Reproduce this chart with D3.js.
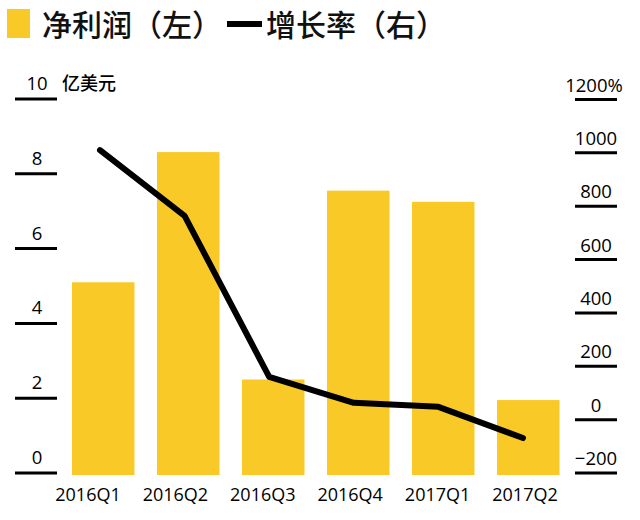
<!DOCTYPE html>
<html>
<head>
<meta charset="utf-8">
<script src="https://cdn.jsdelivr.net/npm/d3@7"></script>
<style>
html,body{margin:0;padding:0;background:#fff;}
svg{display:block;}
</style>
</head>
<body>
<svg id="chart" width="640" height="520"></svg>
<script>
const categories = ["2016Q1","2016Q2","2016Q3","2016Q4","2017Q1","2017Q2"];
const netProfit = [5.1, 8.58, 2.5, 7.55, 7.25, 1.95];
const growthRate = [1010, 764, 160, 63, 48, -69];
const leftTicks = [0, 2, 4, 6, 8, 10];
const rightTicks = [-200, 0, 200, 400, 600, 800, 1000, 1200];
const rightTickLabels = ["\u2212200", "0", "200", "400", "600", "800", "1000", "1200%"];
const leftUnit = "亿美元";
const legendLabels = ["净利润（左）", "增长率（右）"];

const YELLOW = "#F9C928";
const svg = d3.select("#chart");
const font = "'Open Sans', 'Noto Sans', sans-serif";
const cjk = "'Noto Sans CJK SC', 'Noto Sans', sans-serif";

const x = d3.scaleBand().domain(categories).range([60.75, 570.75]).paddingInner(0.265).paddingOuter(0.1325);
const xLine = d3.scalePoint().domain(categories).range([100, 523]);
const xLabel = d3.scalePoint().domain(categories).range([88, 525]);
const yL = d3.scaleLinear().domain([0, 10]).range([473, 99]);
const yR = d3.scaleLinear().domain([-200, 1200]).range([473, 99.5]);

// bars
svg.append("g").selectAll("rect").data(categories).join("rect")
  .attr("x", d => x(d))
  .attr("width", x.bandwidth())
  .attr("y", (d, i) => yL(netProfit[i]))
  .attr("height", (d, i) => yL(0) + 2 - yL(netProfit[i]))
  .attr("fill", YELLOW);

// line
const line = d3.line().x(d => xLine(d.c)).y(d => yR(d.v));
svg.append("path")
  .datum(categories.map((c, i) => ({c, v: growthRate[i]})))
  .attr("d", line)
  .attr("fill", "none")
  .attr("stroke", "#000")
  .attr("stroke-width", 6)
  .attr("stroke-linejoin", "round")
  .attr("stroke-linecap", "round");

// left axis
const gl = svg.append("g");
leftTicks.forEach(t => {
  gl.append("line").attr("x1", 15).attr("x2", 57).attr("y1", yL(t)).attr("y2", yL(t))
    .attr("stroke", "#000").attr("stroke-width", 3);
  gl.append("text").attr("x", 37).attr("y", yL(t) - 9).attr("text-anchor", "middle")
    .attr("font-family", font).attr("font-size", 18.5).attr("fill", "#000").text(t);
});
gl.append("text").attr("x", 62).attr("y", yL(10) - 9)
  .attr("font-family", cjk).attr("font-size", 18).attr("font-weight", 500)
  .attr("fill", "#000").text(leftUnit);

// right axis
const gr = svg.append("g");
rightTicks.forEach((t, i) => {
  gr.append("line").attr("x1", 575).attr("x2", 617).attr("y1", yR(t)).attr("y2", yR(t))
    .attr("stroke", "#000").attr("stroke-width", 3);
  gr.append("text").attr("x", t === 1200 ? 594 : 596).attr("y", yR(t) - 8).attr("text-anchor", "middle")
    .attr("font-family", font).attr("font-size", 18.5).attr("fill", "#000").text(rightTickLabels[i]);
});

// x labels
svg.append("g").selectAll("text").data(categories).join("text")
  .attr("x", d => xLabel(d)).attr("y", 501).attr("text-anchor", "middle")
  .attr("font-family", font).attr("font-size", 18).attr("fill", "#000").text(d => d);

// legend
const lg = svg.append("g");
lg.append("rect").attr("x", 7).attr("y", 9).attr("width", 23).attr("height", 29).attr("fill", YELLOW);
lg.append("text").attr("x", 42).attr("y", 36).attr("font-family", cjk).attr("font-size", 30)
  .attr("font-weight", 500).attr("fill", "#111").text(legendLabels[0]);
lg.append("line").attr("x1", 227).attr("x2", 262).attr("y1", 24).attr("y2", 24)
  .attr("stroke", "#000").attr("stroke-width", 6);
lg.append("text").attr("x", 266).attr("y", 36).attr("font-family", cjk).attr("font-size", 30)
  .attr("font-weight", 500).attr("fill", "#111").text(legendLabels[1]);
</script>
</body>
</html>
